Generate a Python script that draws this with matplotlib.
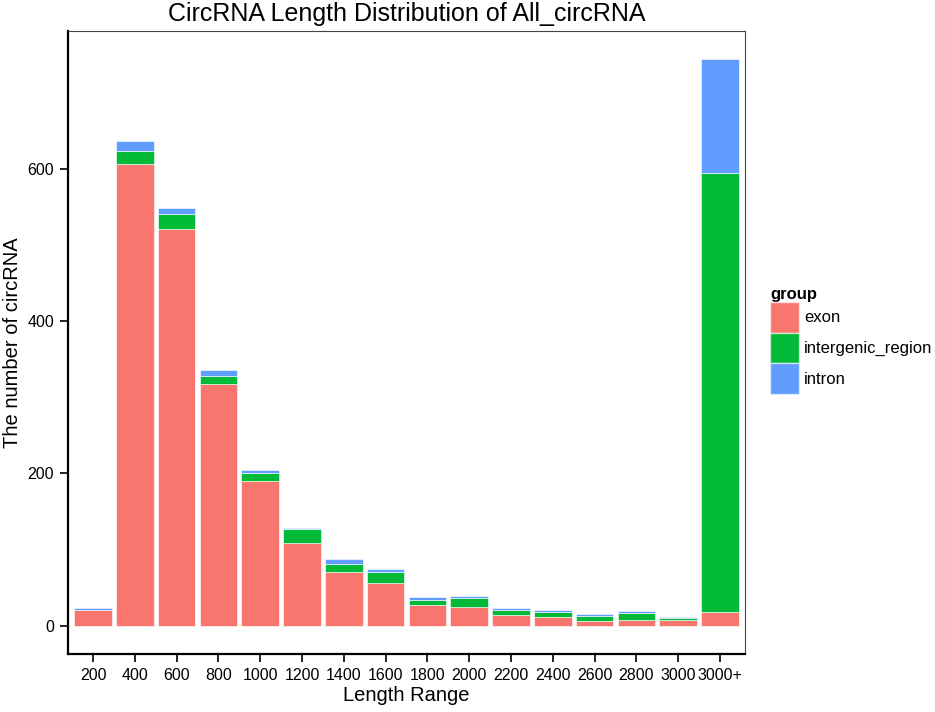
import numpy as np
import matplotlib
matplotlib.use('Agg')
from matplotlib import pyplot as plt
from matplotlib.patches import Patch

# 数据
categories = ['200', '400', '600', '800', '1000', '1200', '1400', '1600',
              '1800', '2000', '2200', '2400', '2600', '2800', '3000', '3000+']
exon = [20, 607, 521, 317, 190, 109, 70, 56, 27, 25, 14, 11, 6, 7, 7, 18]
intergenic = [1, 17, 20, 11, 10, 18, 11, 15, 7, 11, 7, 7, 7, 9, 3, 576]
intron = [2, 13, 8, 8, 4, 1, 6, 4, 4, 3, 2, 3, 2, 3, 1, 150]
groups = ['exon', 'intergenic_region', 'intron']
colors = ['#F8766D', '#00BA38', '#619CFF']

plt.rcParams['font.family'] = ['Liberation Sans', 'DejaVu Sans']

fig = plt.figure(figsize=(9.35, 7.12), dpi=100)
ax = fig.add_axes([0.0727, 0.0815, 0.7241, 0.875])

x = np.arange(len(categories))
bottom = np.zeros(len(categories))
for vals, c in zip([exon, intergenic, intron], colors):
    ax.bar(x, vals, width=0.9, bottom=bottom, color=c,
           edgecolor=(1, 1, 1, 0.6), linewidth=0.7)
    bottom += np.array(vals)

ymax = bottom.max()
ax.set_xlim(-0.6, len(categories) - 0.4)
ax.set_ylim(-0.05 * ymax, 1.05 * ymax)
ax.set_xticks(x)
ax.set_xticklabels(categories)
ax.set_yticks([0, 200, 400, 600])

ax.tick_params(axis='both', direction='out', length=6, width=1.2,
               colors='black', labelsize=11.5, pad=4)
for s in ['left', 'bottom']:
    ax.spines[s].set_linewidth(1.6)
    ax.spines[s].set_color('black')
for s in ['top', 'right']:
    ax.spines[s].set_linewidth(0.8)
    ax.spines[s].set_color('#444444')

ax.set_title('CircRNA Length Distribution of All_circRNA', fontsize=18, pad=7)
ax.set_xlabel('Length Range', fontsize=14.5, labelpad=2)
ax.set_ylabel('The number of circRNA', fontsize=14.5, labelpad=4)

handles = [Patch(facecolor=c, edgecolor=(1, 1, 1, 0.6), label=g)
           for g, c in zip(groups, colors)]
fig.legend(handles=handles, loc='upper left',
           bbox_to_anchor=(770 / 935, 1 - 287 / 712), frameon=False,
           title='group', title_fontproperties={'weight': 'bold', 'size': 12},
           alignment='left', fontsize=12, handlelength=1.75, handleheight=2.45,
           labelspacing=0.0, handletextpad=0.3, borderpad=0, borderaxespad=0)

fig.savefig('out.png', dpi=100)
